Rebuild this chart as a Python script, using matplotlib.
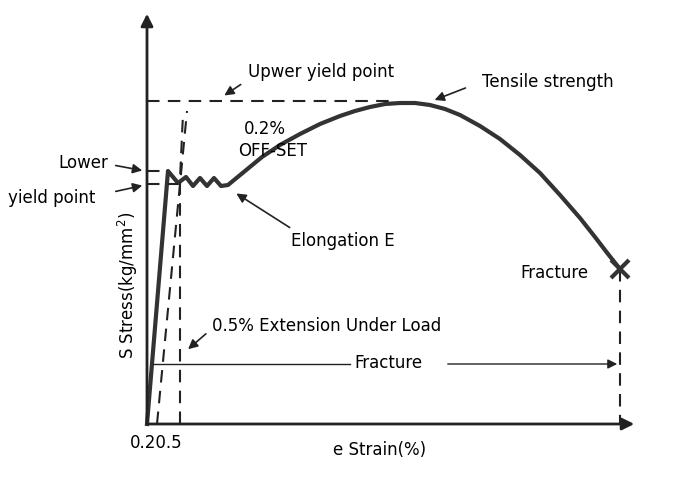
import matplotlib.pyplot as plt

# Schematic drawn in picture coordinates (x right, y down), pixels of a 700x485 sheet
CURVE_X = [147, 168, 178, 186, 193, 200, 207, 214, 221, 228, 245, 262, 280, 300, 320, 340, 355, 370, 385, 400,
           415, 430, 445, 460, 480, 500, 520, 540, 560, 580, 595, 608, 620]
CURVE_Y = [425, 172, 184, 178, 187, 179, 187, 179, 187, 186, 172, 158, 146, 135, 125, 117, 112, 108, 105, 104,
           104, 106, 110, 116, 127, 140, 156, 174, 196, 219, 238, 255, 270]

UPPER_YIELD = 102
LOWER_YIELD_1 = 172
LOWER_YIELD_2 = 185
OFFSET_X = [157, 187]
OFFSET_Y = [425, 112]
EXT_X = [180, 180, 183]
EXT_Y = [425, 180, 115]
FRACTURE = (620, 270)
FRACTURE_LINE_Y = 365

fig = plt.figure(figsize=(7, 4.85), dpi=100)
ax = fig.add_axes([0, 0, 1, 1])
ax.set_xlim(0, 700)
ax.set_ylim(485, 0)
ax.axis('off')

ink = '#222222'
dash = dict(color=ink, lw=1.5, ls=(0, (6, 4)))

# axes arrows
ax.annotate('', xy=(147, 12), xytext=(147, 427),
            arrowprops=dict(arrowstyle='-|>', color=ink, lw=2, mutation_scale=18))
ax.annotate('', xy=(637, 425), xytext=(145, 425),
            arrowprops=dict(arrowstyle='-|>', color=ink, lw=2, mutation_scale=18))

# curve
ax.plot(CURVE_X, CURVE_Y, color='#333333', lw=3, solid_joinstyle='round')

# dashed guides
ax.plot([147, 390], [UPPER_YIELD, UPPER_YIELD], **dash)
ax.plot([147, 168], [LOWER_YIELD_1, LOWER_YIELD_1], **dash)
ax.plot([147, 178], [LOWER_YIELD_2, LOWER_YIELD_2], **dash)
ax.plot(OFFSET_X, OFFSET_Y, **dash)
ax.plot(EXT_X, EXT_Y, **dash)
ax.plot([FRACTURE[0], FRACTURE[0]], [FRACTURE[1], 425], **dash)

# fracture cross
ax.plot(*FRACTURE, marker='x', ms=13, mew=3, color='#333333')

# fracture span line
ax.plot([153, 350], [FRACTURE_LINE_Y, FRACTURE_LINE_Y], color=ink, lw=1)
ax.annotate('', xy=(620, FRACTURE_LINE_Y), xytext=(445, FRACTURE_LINE_Y),
            arrowprops=dict(arrowstyle='-|>', color=ink, lw=1, mutation_scale=14))

arrow = dict(arrowstyle='-|>', color=ink, lw=1.2, mutation_scale=14)
fs = 12
ax.annotate('', xy=(222, 98), xytext=(243, 84), arrowprops=arrow)
ax.annotate('', xy=(432, 102), xytext=(468, 88), arrowprops=arrow)
ax.annotate('', xy=(145, 172), xytext=(113, 166), arrowprops=arrow)
ax.annotate('', xy=(145, 186), xytext=(113, 193), arrowprops=arrow)
ax.annotate('', xy=(234, 193), xytext=(292, 230), arrowprops=arrow)
ax.annotate('', xy=(186, 352), xytext=(208, 333), arrowprops=arrow)

ax.text(248, 72, 'Upwer yield point', fontsize=fs, va='center')
ax.text(482, 82, 'Tensile strength', fontsize=fs, va='center')
ax.text(244, 129, '0.2%', fontsize=fs, va='center')
ax.text(238, 151, 'OFF-SET', fontsize=fs, va='center')
ax.text(58, 163, 'Lower', fontsize=fs, va='center')
ax.text(8, 198, 'yield point', fontsize=fs, va='center')
ax.text(291, 241, 'Elongation E', fontsize=fs, va='center')
ax.text(520, 273, 'Fracture', fontsize=fs, va='center')
ax.text(212, 326, '0.5% Extension Under Load', fontsize=fs, va='center')
ax.text(354, 363, 'Fracture', fontsize=fs, va='center')
ax.text(128, 285, 'S Stress(kg/mm$^2$)', fontsize=fs, rotation=90, ha='center', va='center')
ax.text(130, 443, '0.20.5', fontsize=fs, va='center')
ax.text(333, 450, 'e Strain(%)', fontsize=fs, va='center')

fig.savefig('out.png', dpi=100, facecolor='white')
